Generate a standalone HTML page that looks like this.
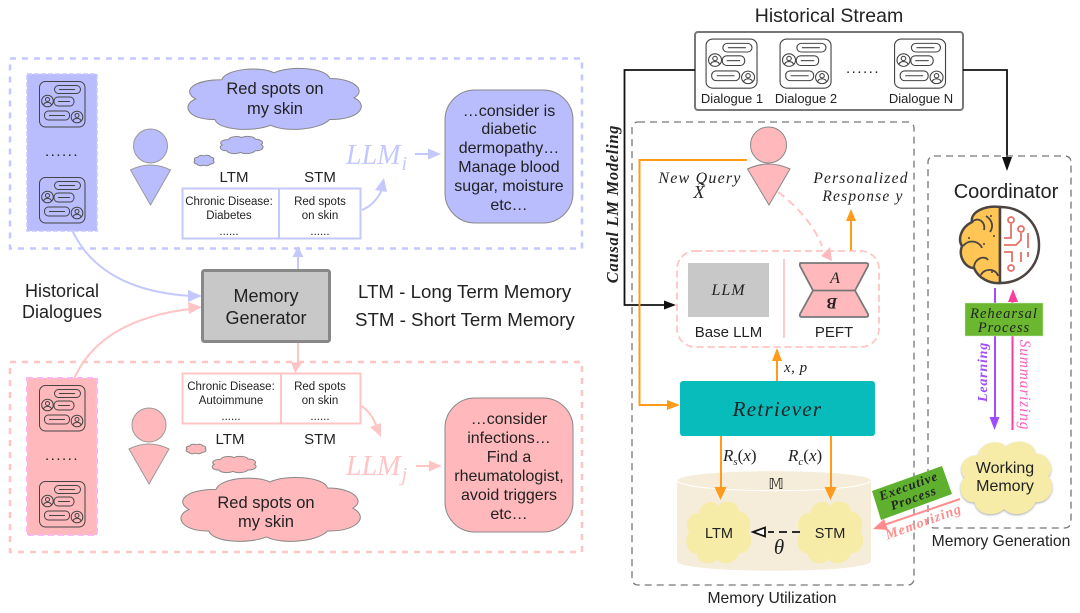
<!DOCTYPE html>
<html><head><meta charset="utf-8"><style>
html,body{margin:0;padding:0;background:#fff;overflow:hidden}
svg.root{display:block;width:1080px;height:613px;filter:blur(.35px)}
text{font-family:"Liberation Sans",sans-serif;fill:#222}
.s{font-family:"Liberation Serif",serif;font-style:italic}
.m{text-anchor:middle}
</style></head><body>
<svg class="root" xmlns="http://www.w3.org/2000/svg" width="1080" height="613" viewBox="0 0 1080 613">
<defs>
<g id="d" fill="none" stroke="#444" stroke-width="1">
<rect x=".5" y=".5" width="45.5" height="45.5" rx="6"/>
<rect x="15.500" y="4.500" width="26" height="8" rx="4"/><path d="M20 8.500h16"/>
<rect x="15" y="16" width="20" height="9" rx="4"/><path d="M19 20.500h12"/>
<rect x="5.500" y="30" width="25" height="9" rx="4"/><path d="M10 34.500h16"/>
<circle cx="8.500" cy="20" r="5.800"/><circle cx="8.500" cy="18.500" r="2"/><path d="M4.500 24c1-3.500 7-3.500 8 0"/>
<circle cx="38" cy="36" r="5.800"/><circle cx="38" cy="34.500" r="2"/><path d="M34 40c1-3.500 7-3.500 8 0"/>
</g>
<path id="c" vector-effect="non-scaling-stroke" d="M20 20C22 3 42-2 50 9C58-2 80 0 82 18C97 18 103 38 96 48C105 60 99 83 82 82C76 99 56 102 48 91C38 102 18 99 16 82C1 83-4 60 5 50C-3 38 3 20 20 20Z"/>
</defs>

<!-- left dashed frames -->
<rect x="10" y="58.500" width="572" height="190" fill="none" stroke="#c5c8ff" stroke-width="2.500" stroke-dasharray="6 6"/>
<rect x="10" y="362" width="572" height="190" fill="none" stroke="#ffc4c4" stroke-width="2.500" stroke-dasharray="6 6"/>

<!-- dialog panels -->
<rect x="27" y="74" width="70" height="157" fill="#b9bcfd" stroke="#c5c8ff" stroke-width="1.500" stroke-dasharray="5 2"/>
<use href="#d" x="39" y="81"/><use href="#d" x="39" y="177"/>
<text x="62" y="156" class="m" font-size="15" letter-spacing="1.500">......</text>
<rect x="27" y="378" width="70" height="157" fill="#ffb9bc" stroke="#ffb6f0" stroke-width="2" stroke-dasharray="6 4"/>
<use href="#d" x="39" y="385"/><use href="#d" x="39" y="481"/>
<text x="62" y="460" class="m" font-size="15" letter-spacing="1.500">......</text>

<!-- people -->
<g fill="#b9bcfd" stroke="#999" stroke-width="1">
<circle cx="150.500" cy="146" r="17"/><path d="M130.500 170Q150.500 160 170.500 170L150.500 205Z"/></g>
<g fill="#ffb9bc" stroke="#999" stroke-width="1">
<circle cx="149" cy="425" r="17"/><path d="M129 449Q149 439 169 449L149 484Z"/></g>

<!-- clouds top -->
<g fill="#b9bcfd" stroke="#888" stroke-width="1">
<svg x="187" y="67" width="174" height="64" viewBox="0 0 100 100" preserveAspectRatio="none" overflow="visible"><use href="#c"/></svg>
<svg x="220" y="136" width="43" height="18" viewBox="0 0 100 100" preserveAspectRatio="none" overflow="visible"><use href="#c"/></svg>
<svg x="194" y="155" width="20" height="11" viewBox="0 0 100 100" preserveAspectRatio="none" overflow="visible"><use href="#c"/></svg>
</g>
<text x="275" y="94" class="m" font-size="16.500" fill="#111">Red spots on</text>
<text x="275" y="114" class="m" font-size="16.500" fill="#111">my skin</text>

<!-- clouds bottom -->
<g fill="#ffb9bc" stroke="#888" stroke-width="1">
<svg x="180" y="476" width="180" height="67" viewBox="0 0 100 100" preserveAspectRatio="none" overflow="visible"><use href="#c"/></svg>
<svg x="212" y="456" width="44" height="17" viewBox="0 0 100 100" preserveAspectRatio="none" overflow="visible"><use href="#c"/></svg>
<svg x="186" y="444" width="20" height="10" viewBox="0 0 100 100" preserveAspectRatio="none" overflow="visible"><use href="#c"/></svg>
</g>
<text x="266" y="508" class="m" font-size="16.500" fill="#111">Red spots on</text>
<text x="266" y="527" class="m" font-size="16.500" fill="#111">my skin</text>

<!-- tables -->
<text x="234" y="182" class="m" font-size="15">LTM</text><text x="320" y="182" class="m" font-size="15">STM</text>
<rect x="182.500" y="188.500" width="178" height="50" fill="#fff" stroke="#c5c8ff" stroke-width="2"/>
<path d="M279 188v50" stroke="#c5c8ff" stroke-width="2"/>
<g font-size="11.500" text-anchor="middle">
<text x="229" y="205">Chronic Disease:</text><text x="229" y="219">Diabetes</text><text x="229" y="235">......</text>
<text x="320" y="205">Red spots</text><text x="320" y="219">on skin</text><text x="320" y="235">......</text>
</g>
<rect x="182.500" y="373.500" width="178" height="50" fill="#fff" stroke="#ffc4c4" stroke-width="2"/>
<path d="M281 373v50" stroke="#ffc4c4" stroke-width="2"/>
<g font-size="11.500" text-anchor="middle">
<text x="231" y="390">Chronic Disease:</text><text x="231" y="404">Autoimmune</text><text x="231" y="420">......</text>
<text x="320" y="390">Red spots</text><text x="320" y="404">on skin</text><text x="320" y="420">......</text>
</g>
<text x="230" y="444" class="m" font-size="15">LTM</text><text x="320" y="444" class="m" font-size="15">STM</text>

<!-- LLM labels -->
<text x="346" y="164" class="s" font-size="28" style="fill:#c5c8ff">LLM<tspan font-size="20" dy="6" dx="1">i</tspan></text>
<text x="346" y="475" class="s" font-size="28" style="fill:#ffc4c4">LLM<tspan font-size="20" dy="6" dx="1">j</tspan></text>
<path d="M415 154h18" stroke="#c5c8ff" stroke-width="2"/><path d="M441 154l-13-5.500v11Z" fill="#c5c8ff"/>
<path d="M416 466h18" stroke="#ffc4c4" stroke-width="2"/><path d="M442 466l-13-5.500v11Z" fill="#ffc4c4"/>
<path d="M362 210Q376 204 382 189" fill="none" stroke="#c5c8ff" stroke-width="2"/><path d="M384 178l-9 12 12 2Z" fill="#c5c8ff"/>
<path d="M362 406Q372 414 376 425" fill="none" stroke="#ffc4c4" stroke-width="2"/><path d="M381 437l-11-10 11-4Z" fill="#ffc4c4"/>

<!-- responses -->
<rect x="445" y="90" width="128" height="133" rx="30" fill="#b9bcfd" stroke="#888" stroke-width="1"/>
<g font-size="16" text-anchor="middle">
<text x="509" y="116">…consider is</text><text x="509" y="134">diabetic</text><text x="509" y="153">dermopathy…</text><text x="509" y="172">Manage blood</text><text x="509" y="191">sugar, moisture</text><text x="509" y="210">etc…</text>
</g>
<rect x="445" y="398" width="128" height="134" rx="30" fill="#ffb9bc" stroke="#888" stroke-width="1"/>
<g font-size="16" text-anchor="middle">
<text x="509" y="424">…consider</text><text x="509" y="443">infections…</text><text x="509" y="462">Find a</text><text x="509" y="481">rheumatologist,</text><text x="509" y="500">avoid triggers</text><text x="509" y="519">etc…</text>
</g>

<!-- generator -->
<path d="M72 230Q100 290 190 296" fill="none" stroke="#c5c8ff" stroke-width="2"/><path d="M202 296l-14-6v12Z" fill="#c5c8ff"/>
<path d="M74 379Q100 320 190 309" fill="none" stroke="#ffc4c4" stroke-width="2"/><path d="M202 307l-14-5 1 12Z" fill="#ffc4c4"/>
<path d="M298 270v-16" stroke="#c5c8ff" stroke-width="2"/><path d="M298 246l-5.500 11h11Z" fill="#c5c8ff"/>
<path d="M298 342v24" stroke="#ffc4c4" stroke-width="2"/><path d="M295 373l-4-11 11 1Z" fill="#ffc4c4"/>
<rect x="202.500" y="270.500" width="127" height="71" rx="2" fill="#c8c8c8" stroke="#888" stroke-width="3"/>
<text x="266" y="302" class="m" font-size="18">Memory</text><text x="266" y="324" class="m" font-size="18">Generator</text>
<text x="62" y="297" class="m" font-size="18">Historical</text><text x="62" y="318" class="m" font-size="18">Dialogues</text>
<text x="358" y="298" font-size="18.700">LTM - Long Term Memory</text>
<text x="355" y="326" font-size="18.700">STM - Short Term Memory</text>

<!-- Historical stream -->
<text x="829" y="22" class="m" font-size="19.500" fill="#333">Historical Stream</text>
<rect x="695" y="32" width="268" height="78" rx="3" fill="#fff" stroke="#777" stroke-width="2"/>
<g transform="translate(705.500 38.500) scale(1.12 1.08)"><use href="#d"/></g>
<g transform="translate(779.500 38.500) scale(1.12 1.08)"><use href="#d"/></g>
<g transform="translate(894 38.500) scale(1.12 1.08)"><use href="#d"/></g>
<text x="863" y="73" class="m" font-size="15" letter-spacing="1.500">......</text>
<g font-size="13" text-anchor="middle">
<text x="732" y="103" fill="#333">Dialogue 1</text><text x="806" y="103" fill="#333">Dialogue 2</text><text x="921" y="103" fill="#333">Dialogue N</text></g>

<!-- black lines -->
<path d="M695 70H624.500V305H667" fill="none" stroke="#111" stroke-width="1.800"/><path d="M676 305l-12-4.500v9Z" fill="#111"/>
<path d="M963 70H1007V160" fill="none" stroke="#111" stroke-width="1.800"/><path d="M1007 171l-5-14h10Z" fill="#111"/>
<text transform="translate(618 204) rotate(-90)" class="s m" font-size="16.500" font-weight="bold" letter-spacing=".7">Causal LM Modeling</text>

<!-- dashed boxes -->
<rect x="632" y="122" width="282" height="463" rx="6" fill="none" stroke="#777" stroke-width="1.300" stroke-dasharray="7 5"/>
<rect x="928" y="156" width="143" height="372" rx="6" fill="none" stroke="#777" stroke-width="1.300" stroke-dasharray="7 5"/>
<text x="772" y="603" class="m" font-size="15.700" fill="#333">Memory Utilization</text>
<text x="1001" y="546" class="m" font-size="15.700" fill="#333">Memory Generation</text>

<!-- user -->
<g fill="#ffb9bc" stroke="#888" stroke-width="1"><circle cx="768.500" cy="145" r="18"/><path d="M747.500 169Q768.500 159 790 169L769 205Z"/></g>
<path d="M747 160H639.500V405H668" fill="none" stroke="#ff9a1a" stroke-width="2"/><path d="M680 405l-13-5v10Z" fill="#ff9a1a"/>
<text x="700" y="183" class="s m" font-size="16" letter-spacing="1.200" fill="#111">New Query</text>
<text x="699" y="198" class="s m" font-size="18" fill="#111">X̃</text>
<text x="861" y="183" class="s m" font-size="15.500" letter-spacing="1.200" fill="#111">Personalized</text>
<text x="863" y="201" class="s m" font-size="15.500" letter-spacing="1.200" fill="#111">Response y</text>
<path d="M851 251V220" stroke="#ff9a1a" stroke-width="2"/><path d="M851 209l-5 12h10Z" fill="#ff9a1a"/>
<path d="M778 192Q810 216 822 246" fill="none" stroke="#ffc4c4" stroke-width="2" stroke-dasharray="8 5"/>

<!-- PEFT box -->
<rect x="677" y="251" width="202" height="96" rx="18" fill="#fff" stroke="#ffc4c4" stroke-width="1.800" stroke-dasharray="7 4"/>
<path d="M832 261l-11-5 9-9Z" fill="#ffb9bc"/>
<rect x="688" y="263" width="81" height="54" fill="#c8c8c8"/>
<text x="728.500" y="295" class="s m" font-size="16" letter-spacing="1" fill="#111">LLM</text>
<text x="728.500" y="337" class="m" font-size="15" fill="#333">Base LLM</text>
<path d="M784 259v79" stroke="#ffc4c4" stroke-width="1.800"/>
<path d="M800 263H866Q869 263 868 266L855 290.500L868 314Q869 317 866 317H802Q799 317 800 314L813 290.500L800 266Q799 263 802 263Z" fill="#ffb9bc" stroke="#777" stroke-width="1.800" stroke-linejoin="round"/>
<path d="M813 290.500H855" stroke="#777" stroke-width="1.800"/>
<text x="835" y="283" class="s m" font-size="16" fill="#111">A</text>
<text transform="translate(832 298) rotate(180)" class="s m" font-size="16" font-weight="bold" fill="#111">B</text>
<text x="834" y="337" class="m" font-size="15" fill="#333">PEFT</text>

<!-- Retriever -->
<path d="M777 381V358" stroke="#ff9a1a" stroke-width="2"/><path d="M777 348l-5 13h10Z" fill="#ff9a1a"/>
<text x="784" y="372" class="s" font-size="15" letter-spacing=".5" fill="#111">x, p</text>
<rect x="680" y="381" width="195" height="55" rx="3" fill="#08bcbc"/>
<text x="777.500" y="416" class="s m" font-size="21" letter-spacing="1.300" fill="#111">Retriever</text>

<!-- cylinder -->
<path d="M677 481C677 468 871 468 871 481V561C871 574 677 574 677 561Z" fill="#f5edd9"/>
<path d="M677 481C690 494 858 494 871 481" fill="none" stroke="#fff" stroke-width="1"/>
<text x="776" y="489" class="m" font-size="15" style="font-family:'DejaVu Sans',sans-serif" fill="#666">𝕄</text>
<path d="M721 436V490" stroke="#ff9a1a" stroke-width="2"/><path d="M720.500 500l-6-13h12Z" fill="#ff9a1a"/>
<path d="M831 436V490" stroke="#ff9a1a" stroke-width="2"/><path d="M830.500 500l-6-13h12Z" fill="#ff9a1a"/>
<text x="723" y="461" class="s" font-size="17" fill="#111">R<tspan font-size="11" dy="4">s</tspan><tspan dy="-4" font-style="normal">(</tspan>x<tspan font-style="normal">)</tspan></text>
<text x="788" y="461" class="s" font-size="17" fill="#111">R<tspan font-size="11" dy="4">c</tspan><tspan dy="-4" font-style="normal">(</tspan>x<tspan font-style="normal">)</tspan></text>
<g fill="#f6eca8">
<svg x="686" y="500" width="65" height="65" viewBox="0 0 100 100" preserveAspectRatio="none" overflow="visible"><use href="#c"/></svg>
<svg x="797" y="500" width="66" height="65" viewBox="0 0 100 100" preserveAspectRatio="none" overflow="visible"><use href="#c"/></svg>
</g>
<text x="719" y="538" class="m" font-size="14.500" fill="#111">LTM</text>
<text x="830" y="538" class="m" font-size="14.500" fill="#111">STM</text>
<path d="M800 532H768" stroke="#111" stroke-width="1.800" stroke-dasharray="8 5"/>
<path d="M753 532l12-4.500v9Z" fill="#fff" stroke="#111" stroke-width="1.800"/>
<text x="779" y="554" class="s m" font-size="21" fill="#111">θ</text>

<!-- coordinator -->
<text x="1006" y="198" class="m" font-size="20" fill="#333">Coordinator</text>
<path d="M1000 207C985 205 970 212 972 222C960 228 958 240 962 246C958 256 965 268 974 268C978 278 990 284 1000 283Z" fill="#ffc656" stroke="#4b4440" stroke-width="2.500"/>
<path d="M1000 207C1024 207 1039 225 1039 245C1039 265 1024 283 1000 283Z" fill="#fff" stroke="#4b4440" stroke-width="2.500"/>
<g fill="none" stroke="#4b4440" stroke-width="1.800"><path d="M972 222C978 216 986 222 984 230M963 246C970 238 980 242 982 248M974 268C974 258 985 255 988 260M986 216C992 220 994 226 990 232M981 275C984 268 996 268 998 276"/></g>
<g fill="#4b4440"><circle cx="991" cy="216" r="1"/><circle cx="969" cy="238" r="1"/><circle cx="984" cy="244" r="1"/><circle cx="994" cy="236" r="1"/><circle cx="992" cy="272" r="1"/></g>
<g fill="none" stroke="#e8706a" stroke-width="1.800"><circle cx="1011" cy="220" r="3"/><circle cx="1021" cy="229" r="3"/><circle cx="1011" cy="268" r="3"/><path d="M1011 224V238H1004M1021 233V240L1016 245H1004M1028 233V248M1028 252V257M1004 252H1012V262M1021 252V262"/></g>

<!-- rehearsal -->
<path d="M995 288V420" stroke="#a04cff" stroke-width="2"/><path d="M994.500 430l-5-13h10Z" fill="#a04cff"/>
<path d="M1012.500 430V300" stroke="#ff3d9e" stroke-width="2"/><path d="M1013 289l-5 13h10Z" fill="#ff3d9e"/>
<rect x="965" y="303" width="78" height="33" fill="#6bb72f" stroke="#cfe9bf" stroke-width=".5"/>
<text x="1004" y="318" class="s m" font-size="14.500" letter-spacing="1" fill="#111">Rehearsal</text>
<text x="1004" y="332" class="s m" font-size="14.500" letter-spacing="1" fill="#111">Process</text>
<text transform="translate(987 372) rotate(-90)" class="s m" font-size="14" font-weight="bold" letter-spacing=".8" style="fill:#a04cff">Learning</text>
<text transform="translate(1020 385) rotate(90)" class="s m" font-size="15.500" letter-spacing=".8" style="fill:#ff5fc0">Summarizing</text>

<!-- working memory -->
<g fill="#f6eca8" style="filter:drop-shadow(0 1px 1px #aaa)">
<svg x="960" y="440" width="92" height="76" viewBox="0 0 100 100" preserveAspectRatio="none" overflow="visible"><use href="#c"/></svg>
</g>
<text x="1005" y="473" class="m" font-size="16" fill="#111">Working</text>
<text x="1005" y="491" class="m" font-size="16" fill="#111">Memory</text>

<!-- executive -->
<polygon points="872,491 942,466 952,494 881,520" fill="#5fb02e"/>
<text transform="translate(910 490) rotate(-20)" class="s m" font-size="13" font-weight="bold" letter-spacing="1" fill="#111">Executive</text>
<text transform="translate(915 502) rotate(-20)" class="s m" font-size="13" font-weight="bold" letter-spacing="1" fill="#111">Process</text>
<path d="M960 499L884 525" stroke="#ff8d8d" stroke-width="2"/><path d="M873 529l11-10 4 11Z" fill="#ff8d8d"/>
<text transform="translate(925 526) rotate(-20)" class="s m" font-size="14" font-weight="bold" letter-spacing="1" style="fill:#ff8d8d">Memorizing</text>
</svg>
</body></html>
